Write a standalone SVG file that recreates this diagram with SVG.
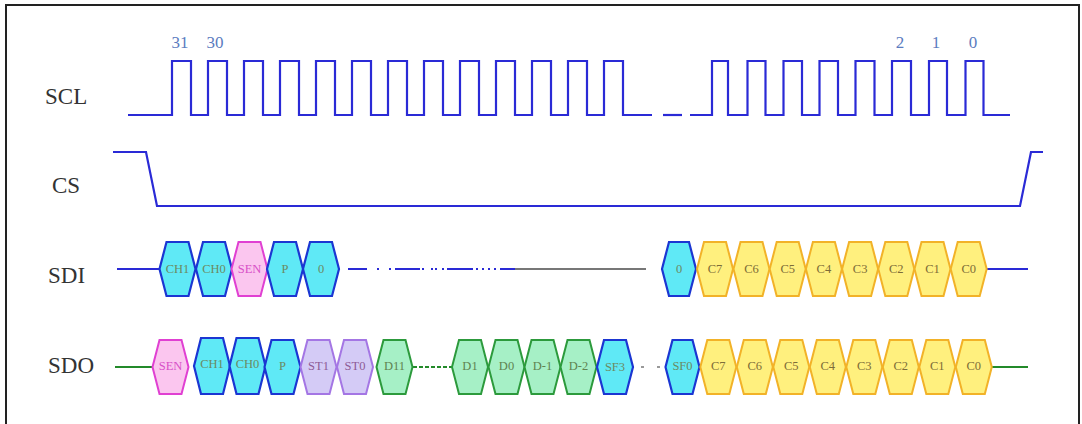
<svg xmlns="http://www.w3.org/2000/svg" width="1082" height="424" viewBox="0 0 1082 424">
<style>
.lbl{font-family:"Liberation Serif",serif;font-size:23px;fill:#333}
.num{font-family:"Liberation Serif",serif;font-size:17px;fill:#5b7cc0;text-anchor:middle}
.sig{fill:none;stroke:#2a2ad6;stroke-width:2.2;stroke-linejoin:miter}
.grn{fill:none;stroke:#238a2a;stroke-width:2}
.hx text{font-family:"Liberation Serif",serif;font-size:12.5px;text-anchor:middle}
.cy polygon{fill:#5fe9f6;stroke:#1b36d2;stroke-width:2.2}
.cy text{fill:#6b8a62}
.pk polygon{fill:#fbc6ef;stroke:#e040d2;stroke-width:2}
.pk text{fill:#d850c8}
.pu polygon{fill:#d4cbf6;stroke:#a476e4;stroke-width:2}
.pu text{fill:#8e5c96}
.gr polygon{fill:#a6f0c6;stroke:#2c9a3c;stroke-width:2}
.gr text{fill:#5f8350}
.ye polygon{fill:#fff07e;stroke:#f2b228;stroke-width:2}
.ye text{fill:#7d6c38}
</style>
<rect x="0" y="0" width="1082" height="424" fill="#fff"/>
<rect x="6" y="5" width="1073" height="440" fill="none" stroke="#222" stroke-width="2"/>

<g id="labels">
<text class="lbl" x="45" y="104">SCL</text>
<text class="lbl" x="52" y="193">CS</text>
<text class="lbl" x="48" y="283">SDI</text>
<text class="lbl" x="48" y="373">SDO</text>
<text class="num" x="180" y="48">31</text>
<text class="num" x="215" y="48">30</text>
<text class="num" x="900" y="48">2</text>
<text class="num" x="936" y="48">1</text>
<text class="num" x="973" y="48">0</text>
</g>

<g id="connectors">
<path class="sig" d="M128,115 H172 V61 H191 V115 H208 V61 H227 V115 H244 V61 H263 V115 H280 V61 H299 V115 H316 V61 H335 V115 H352 V61 H371 V115 H388 V61 H407 V115 H424 V61 H443 V115 H460 V61 H479 V115 H496 V61 H515 V115 H532 V61 H551 V115 H568 V61 H587 V115 H604 V61 H623 V115 H652"/>
<path class="sig" d="M663,115 H682"/>
<path class="sig" d="M690,115 H712 V61 H728 V115 H747.5 V61 H765.5 V115 H783.5 V61 H802 V115 H819.5 V61 H838 V115 H855.5 V61 H874.5 V115 H892 V61 H911 V115 H929 V61 H947 V115 H965.5 V61 H983.5 V115 H1010"/>
<path class="sig" d="M113,152 H146 L157,206 H1020 L1031,152 H1043"/>
<path class="sig" d="M117,269 H159"/>
<path class="sig" d="M348,269 H367 M377,269 H379 M389,269 H391 M395,269 H420 M422,269 H424 M431,269 H433 M435,269 H437 M442,269 H444 M447,269 H473 M476,269 H478 M482,269 H484 M488,269 H490 M494,269 H496 M500,269 H515"/>
<path d="M515,269 H646" fill="none" stroke="#777" stroke-width="2"/>
<path class="sig" d="M987,269 H1028"/>
<path class="grn" d="M115,367 H152"/>
<path class="grn" d="M413,367 H452" stroke-dasharray="4,2"/>
<path d="M641,367 H644 M657,367 H660" stroke="#999" stroke-width="2"/>
<path class="grn" d="M992,367 H1028"/>
</g>

<g class="hx">
<g id="sdi-ch1" class="cy" transform="translate(177.5,269)"><polygon points="-18,0 -11,-27 11,-27 18,0 11,27 -11,27"/><text y="4">CH1</text></g>
<g id="sdi-ch0" class="cy" transform="translate(214,269)"><polygon points="-18,0 -11,-27 11,-27 18,0 11,27 -11,27"/><text y="4">CH0</text></g>
<g id="sdi-sen" class="pk" transform="translate(249.5,269)"><polygon points="-18,0 -11,-27 11,-27 18,0 11,27 -11,27"/><text y="4">SEN</text></g>
<g id="sdi-p" class="cy" transform="translate(285,269)"><polygon points="-18,0 -11,-27 11,-27 18,0 11,27 -11,27"/><text y="4">P</text></g>
<g id="sdi-0a" class="cy" transform="translate(321,269)"><polygon points="-18,0 -11,-27 11,-27 18,0 11,27 -11,27"/><text y="4">0</text></g>
<g id="sdi-0b" class="cy" transform="translate(679,269)"><polygon points="-17,0 -10,-27 10,-27 17,0 10,27 -10,27"/><text y="4">0</text></g>
<g id="sdi-c7" class="ye" transform="translate(715,269)"><polygon points="-18,0 -11,-27 11,-27 18,0 11,27 -11,27"/><text y="4">C7</text></g>
<g id="sdi-c6" class="ye" transform="translate(751.5,269)"><polygon points="-18,0 -11,-27 11,-27 18,0 11,27 -11,27"/><text y="4">C6</text></g>
<g id="sdi-c5" class="ye" transform="translate(787.7,269)"><polygon points="-18,0 -11,-27 11,-27 18,0 11,27 -11,27"/><text y="4">C5</text></g>
<g id="sdi-c4" class="ye" transform="translate(823.9,269)"><polygon points="-18,0 -11,-27 11,-27 18,0 11,27 -11,27"/><text y="4">C4</text></g>
<g id="sdi-c3" class="ye" transform="translate(860.1,269)"><polygon points="-18,0 -11,-27 11,-27 18,0 11,27 -11,27"/><text y="4">C3</text></g>
<g id="sdi-c2" class="ye" transform="translate(896.3,269)"><polygon points="-18,0 -11,-27 11,-27 18,0 11,27 -11,27"/><text y="4">C2</text></g>
<g id="sdi-c1" class="ye" transform="translate(932.5,269)"><polygon points="-18,0 -11,-27 11,-27 18,0 11,27 -11,27"/><text y="4">C1</text></g>
<g id="sdi-c0" class="ye" transform="translate(968.7,269)"><polygon points="-18,0 -11,-27 11,-27 18,0 11,27 -11,27"/><text y="4">C0</text></g>

<g id="sdo-sen" class="pk" transform="translate(170.5,367)"><polygon points="-18,0 -11,-27 11,-27 18,0 11,27 -11,27"/><text y="3">SEN</text></g>
<g id="sdo-ch1" class="cy" transform="translate(212,366)"><polygon points="-18,0 -11,-28 11,-28 18,0 11,28 -11,28"/><text y="2">CH1</text></g>
<g id="sdo-ch0" class="cy" transform="translate(247.5,366)"><polygon points="-18,0 -11,-28 11,-28 18,0 11,28 -11,28"/><text y="2">CH0</text></g>
<g id="sdo-p" class="cy" transform="translate(282.5,367)"><polygon points="-18,0 -11,-27 11,-27 18,0 11,27 -11,27"/><text y="3">P</text></g>
<g id="sdo-st1" class="pu" transform="translate(318.5,367)"><polygon points="-18,0 -11,-27 11,-27 18,0 11,27 -11,27"/><text y="3">ST1</text></g>
<g id="sdo-st0" class="pu" transform="translate(355,367)"><polygon points="-18,0 -11,-27 11,-27 18,0 11,27 -11,27"/><text y="3">ST0</text></g>
<g id="sdo-d11" class="gr" transform="translate(394.5,367)"><polygon points="-18,0 -11,-27 11,-27 18,0 11,27 -11,27"/><text y="3">D11</text></g>
<g id="sdo-d1" class="gr" transform="translate(470,367)"><polygon points="-18,0 -11,-27 11,-27 18,0 11,27 -11,27"/><text y="3">D1</text></g>
<g id="sdo-d0" class="gr" transform="translate(506.5,367)"><polygon points="-18,0 -11,-27 11,-27 18,0 11,27 -11,27"/><text y="3">D0</text></g>
<g id="sdo-dm1" class="gr" transform="translate(542.5,367)"><polygon points="-18,0 -11,-27 11,-27 18,0 11,27 -11,27"/><text y="3">D-1</text></g>
<g id="sdo-dm2" class="gr" transform="translate(578.5,367)"><polygon points="-18,0 -11,-27 11,-27 18,0 11,27 -11,27"/><text y="3">D-2</text></g>
<g id="sdo-sf3" class="cy" transform="translate(615,367)"><polygon points="-18,0 -11,-27 11,-27 18,0 11,27 -11,27"/><text y="4">SF3</text></g>
<g id="sdo-sf0" class="cy" transform="translate(682.5,367)"><polygon points="-17,0 -10,-27 10,-27 17,0 10,27 -10,27"/><text y="3">SF0</text></g>
<g id="sdo-c7" class="ye" transform="translate(718.3,367)"><polygon points="-18,0 -11,-27 11,-27 18,0 11,27 -11,27"/><text y="3">C7</text></g>
<g id="sdo-c6" class="ye" transform="translate(754.8,367)"><polygon points="-18,0 -11,-27 11,-27 18,0 11,27 -11,27"/><text y="3">C6</text></g>
<g id="sdo-c5" class="ye" transform="translate(791.3,367)"><polygon points="-18,0 -11,-27 11,-27 18,0 11,27 -11,27"/><text y="3">C5</text></g>
<g id="sdo-c4" class="ye" transform="translate(827.8,367)"><polygon points="-18,0 -11,-27 11,-27 18,0 11,27 -11,27"/><text y="3">C4</text></g>
<g id="sdo-c3" class="ye" transform="translate(864.3,367)"><polygon points="-18,0 -11,-27 11,-27 18,0 11,27 -11,27"/><text y="3">C3</text></g>
<g id="sdo-c2" class="ye" transform="translate(900.8,367)"><polygon points="-18,0 -11,-27 11,-27 18,0 11,27 -11,27"/><text y="3">C2</text></g>
<g id="sdo-c1" class="ye" transform="translate(937.3,367)"><polygon points="-18,0 -11,-27 11,-27 18,0 11,27 -11,27"/><text y="3">C1</text></g>
<g id="sdo-c0" class="ye" transform="translate(973.8,367)"><polygon points="-18,0 -11,-27 11,-27 18,0 11,27 -11,27"/><text y="3">C0</text></g>
</g>
</svg>
